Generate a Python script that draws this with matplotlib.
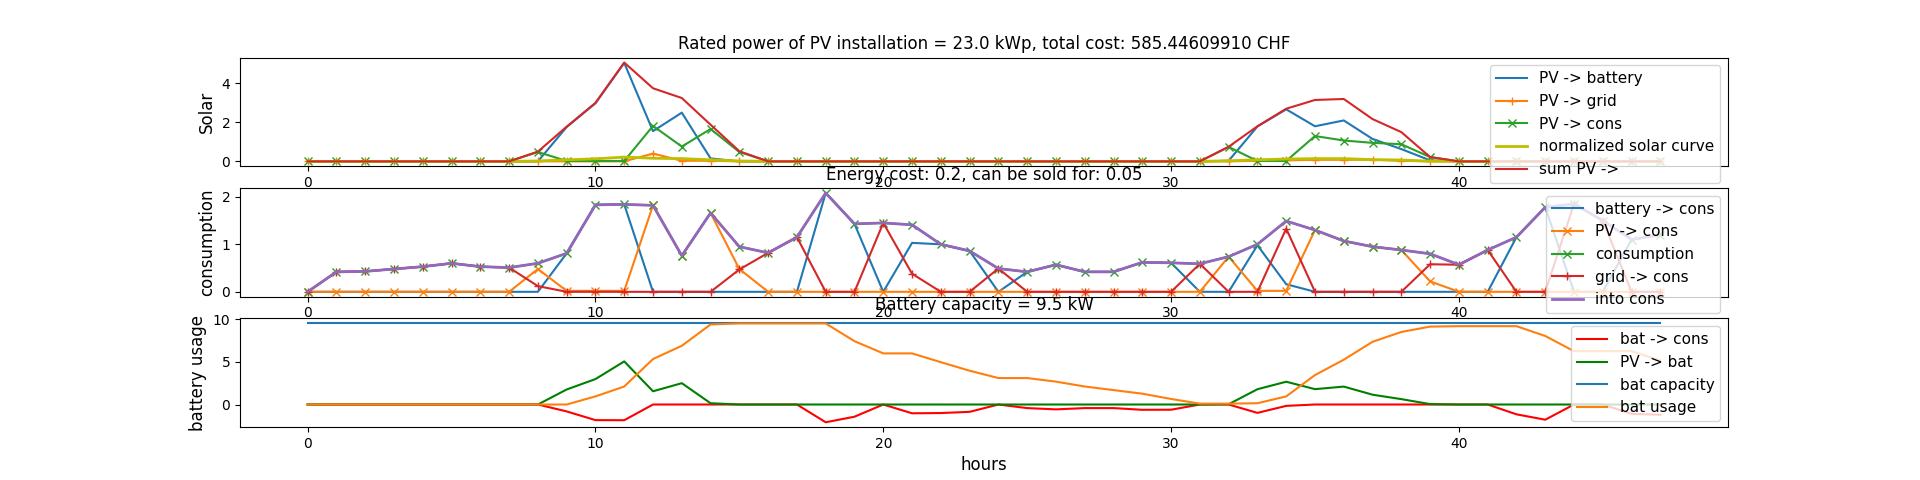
import matplotlib
matplotlib.use("Agg")
import matplotlib.pyplot as plt

hours = list(range(48))

# solar production split (kW)
pv_battery = [0, 0, 0, 0, 0, 0, 0, 0, 0, 1.76, 2.98, 5.05, 1.55, 2.5, 0.15, 0,
              0, 0, 0, 0, 0, 0, 0, 0, 0, 0, 0, 0, 0, 0, 0, 0,
              0.03, 1.79, 2.67, 1.8, 2.1, 1.15, 0.63, 0.05, 0, 0, 0, 0, 0, 0, 0, 0]
pv_grid = [0, 0, 0, 0, 0, 0, 0, 0, 0, 0, 0, 0, 0.4, 0.03, 0.03, 0,
           0, 0, 0, 0, 0, 0, 0, 0, 0, 0, 0, 0, 0, 0, 0, 0,
           0, 0.03, 0.05, 0.08, 0.08, 0.08, 0.03, 0, 0, 0, 0, 0, 0, 0, 0, 0]
pv_cons = [0, 0, 0, 0, 0, 0, 0, 0, 0.48, 0.02, 0.02, 0.02, 1.82, 0.76, 1.66, 0.48,
           0, 0, 0, 0, 0, 0, 0, 0, 0, 0, 0, 0, 0, 0, 0, 0,
           0.74, 0.02, 0.02, 1.3, 1.07, 0.95, 0.88, 0.22, 0, 0, 0, 0, 0, 0, 0, 0]
solar_norm = [0, 0, 0, 0, 0, 0, 0, 0, 0.02, 0.08, 0.13, 0.22, 0.16, 0.14, 0.08, 0.02,
              0, 0, 0, 0, 0, 0, 0, 0, 0, 0, 0, 0, 0, 0, 0, 0,
              0.03, 0.08, 0.12, 0.14, 0.14, 0.09, 0.07, 0.01, 0, 0, 0, 0, 0, 0, 0, 0]
pv_sum = [0, 0, 0, 0, 0, 0, 0, 0, 0.5, 1.78, 3.0, 5.07, 3.75, 3.25, 1.88, 0.52,
          0, 0, 0, 0, 0, 0, 0, 0, 0, 0, 0, 0, 0, 0, 0, 0,
          0.75, 1.8, 2.7, 3.15, 3.2, 2.17, 1.5, 0.22, 0, 0, 0, 0, 0, 0, 0, 0]

# consumption split (kW)
battery_cons = [0, 0, 0, 0, 0, 0, 0, 0, 0, 0.81, 1.83, 1.84, 0, 0, 0, 0,
                0, 0, 2.08, 1.43, 0, 1.03, 1.0, 0.86, 0, 0.42, 0.57, 0.42, 0.42, 0.62, 0.61, 0,
                0, 0.98, 0.16, 0, 0, 0, 0, 0, 0, 0, 1.15, 1.78, 0, 0, 1.1, 1.2]
consumption = [0, 0.42, 0.43, 0.48, 0.53, 0.6, 0.53, 0.51, 0.6, 0.81, 1.83, 1.84, 1.82, 0.76, 1.66, 0.95,
               0.82, 1.15, 2.08, 1.43, 1.45, 1.41, 1.0, 0.86, 0.49, 0.42, 0.57, 0.42, 0.42, 0.62, 0.61, 0.59,
               0.74, 1.0, 1.49, 1.3, 1.07, 0.95, 0.88, 0.8, 0.57, 0.88, 1.15, 1.78, 1.85, 1.5, 1.1, 1.2]
grid_cons = [0, 0.42, 0.43, 0.48, 0.53, 0.6, 0.53, 0.51, 0.12, 0, 0, 0, 0, 0, 0, 0.47,
             0.82, 1.15, 0, 0, 1.45, 0.38, 0, 0, 0.49, 0, 0, 0, 0, 0, 0, 0.59,
             0, 0, 1.33, 0, 0, 0, 0, 0.58, 0.57, 0.88, 0, 0, 1.85, 1.5, 0, 0]

# battery (kWh)
bat_capacity = 9.5
bat_out = [0, 0, 0, 0, 0, 0, 0, 0, 0, -0.81, -1.83, -1.84, 0, 0, 0, 0,
           0, 0, -2.08, -1.43, 0, -1.03, -1.0, -0.86, 0, -0.42, -0.57, -0.42, -0.42, -0.62, -0.61, 0,
           0, -0.98, -0.16, 0, 0, 0, 0, 0, 0, 0, -1.15, -1.78, 0, 0, -1.1, -1.2]
bat_usage = [0, 0, 0, 0, 0, 0, 0, 0, 0, 0, 0.95, 2.11, 5.33, 6.88, 9.38, 9.5,
             9.5, 9.5, 9.5, 7.42, 5.99, 5.99, 4.96, 3.96, 3.1, 3.1, 2.68, 2.11, 1.69, 1.27, 0.65, 0.1,
             0.1, 0.15, 0.95, 3.45, 5.25, 7.35, 8.5, 9.13, 9.18, 9.18, 9.18, 8.03, 6.25, 6.25, 6.25, 5.15]

fig = plt.figure(figsize=(19.2, 4.8), dpi=100)

ax1 = fig.add_subplot(311)
ax1.set_title("Rated power of PV installation = 23.0 kWp, total cost: 585.44609910 CHF")
ax1.plot(hours, pv_battery, label="PV -> battery")
ax1.plot(hours, pv_grid, marker="+", label="PV -> grid")
ax1.plot(hours, pv_cons, marker="x", label="PV -> cons")
ax1.plot(hours, solar_norm, color="y", lw=2, label="normalized solar curve")
ax1.plot(hours, pv_sum, label="sum PV ->")
ax1.set_ylabel("Solar", fontsize=12)
ax1.legend(loc="upper right", fontsize=11)

ax2 = fig.add_subplot(312)
ax2.set_title("Energy cost: 0.2, can be sold for: 0.05")
ax2.plot(hours, battery_cons, label="battery -> cons")
ax2.plot(hours, pv_cons, marker="x", label="PV -> cons")
ax2.plot(hours, consumption, marker="x", label="consumption")
ax2.plot(hours, grid_cons, marker="+", label="grid -> cons")
ax2.plot(hours, consumption, lw=2, label="into cons")
ax2.set_ylabel("consumption", fontsize=12)
ax2.legend(loc="upper right", fontsize=11)

ax3 = fig.add_subplot(313)
ax3.set_title("Battery capacity = %.1f kW" % bat_capacity)
ax3.plot(hours, bat_out, "r", label="bat -> cons")
ax3.plot(hours, pv_battery, "g", label="PV -> bat")
ax3.plot(hours, [bat_capacity] * len(hours), label="bat capacity")
ax3.plot(hours, bat_usage, label="bat usage")
ax3.set_ylabel("battery usage", fontsize=12)
ax3.set_xlabel("hours", fontsize=12)
ax3.legend(loc="upper right", fontsize=11)

fig.savefig("out.png")
